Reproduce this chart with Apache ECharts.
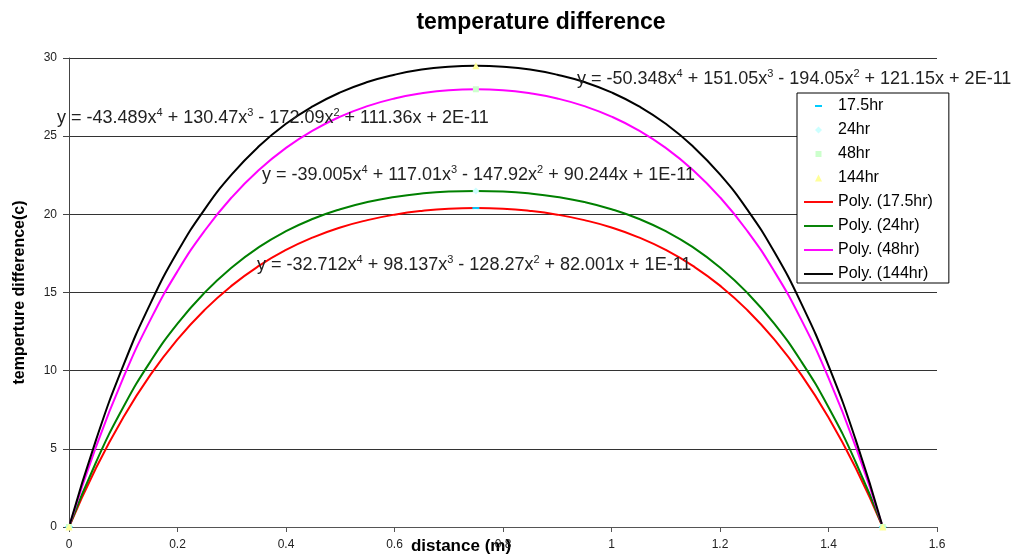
<!DOCTYPE html>
<html>
<head>
<meta charset="utf-8">
<script src="https://cdn.jsdelivr.net/npm/echarts@6/dist/echarts.min.js"></script>
<style>
  html, body { margin: 0; padding: 0; background: #fff; }
  #main { width: 1013px; height: 555px; }
</style>
</head>
<body>
<div id="main"></div>
<script>
// distance along the piece (m), the trendlines are read every 0.05
var distance = [0, 0.05, 0.1, 0.15, 0.2, 0.25, 0.3, 0.35, 0.4, 0.45, 0.5, 0.55, 0.6, 0.65, 0.7, 0.75,
  0.8, 0.85, 0.9, 0.95, 1, 1.05, 1.1, 1.15, 1.2, 1.25, 1.3, 1.35, 1.4, 1.45, 1.5];

// Poly. trendlines
var poly175 = [0, 3.79, 7.01, 9.73, 12.00, 13.89, 15.44, 16.70, 17.72, 18.53, 19.16, 19.63, 19.98, 20.22, 20.36, 20.40,
  20.36, 20.22, 19.98, 19.63, 19.16, 18.53, 17.72, 16.70, 15.44, 13.89, 12.00, 9.73, 7.01, 3.79, 0];
var poly24 = [0, 4.16, 7.66, 10.58, 13.01, 14.99, 16.60, 17.90, 18.92, 19.72, 20.33, 20.79, 21.11, 21.33, 21.46, 21.50,
  21.46, 21.33, 21.11, 20.79, 20.33, 19.72, 18.92, 17.90, 16.60, 14.99, 13.01, 10.58, 7.66, 4.16, 0];
var poly48 = [0, 5.15, 9.54, 13.25, 16.36, 18.95, 21.09, 22.84, 24.25, 25.37, 26.25, 26.92, 27.41, 27.74, 27.94, 28.00,
  27.94, 27.74, 27.41, 26.92, 26.25, 25.37, 24.25, 22.84, 21.09, 18.95, 16.36, 13.25, 9.54, 5.15, 0];
var poly144 = [0, 5.59, 10.32, 14.29, 17.60, 20.32, 22.55, 24.35, 25.79, 26.92, 27.80, 28.46, 28.93, 29.26, 29.44, 29.50,
  29.44, 29.26, 28.93, 28.46, 27.80, 26.92, 25.79, 24.35, 22.55, 20.32, 17.60, 14.29, 10.32, 5.59, 0];

// measured points
var pointX = [0, 0.75, 1.5];
var pts175 = [0, 20.4, 0];
var pts24 = [0, 21.5, 0];
var pts48 = [0, 28.0, 0];
var pts144 = [0, 29.5, 0];

var eq175 = 'y = -32.712x{s|4} + 98.137x{s|3} - 128.27x{s|2} + 82.001x + 1E-11';
var eq24 = 'y = -39.005x{s|4} + 117.01x{s|3} - 147.92x{s|2} + 90.244x + 1E-11';
var eq48 = 'y = -43.489x{s|4} + 130.47x{s|3} - 172.09x{s|2} + 111.36x + 2E-11';
var eq144 = 'y = -50.348x{s|4} + 151.05x{s|3} - 194.05x{s|2} + 121.15x + 2E-11';

var FONT = '"Liberation Sans", Arial, sans-serif';

// legend icons, drawn in a 29x8 box (the leading moves keep the small marks centred)
var ICON_LINE = 'path://M0 0H30V2H0Z';
var ICON_DASH = 'path://M0 0M29 8M11 3H18V5H11Z';
var ICON_DIAMOND = 'path://M0 0M29 8M14.5 0.5L18 4L14.5 7.5L11 4Z';
var ICON_SQUARE = 'path://M0 0M29 8M11.5 1H17.5V7H11.5Z';
var ICON_TRIANGLE = 'path://M0 0M29 8M14.5 0.5L18 7.5H11Z';

function pairs(xs, ys) {
  return xs.map(function (x, i) { return [x, ys[i]]; });
}

function pointSeries(name, ys, symbol, size, color) {
  return {
    name: name,
    type: 'line',
    data: pairs(pointX, ys),
    symbol: symbol,
    symbolSize: size,
    showAllSymbol: true,
    itemStyle: { color: color },
    lineStyle: { width: 0, opacity: 0 },
    z: 5
  };
}

function polySeries(name, ys, color) {
  return {
    name: name,
    type: 'line',
    data: pairs(distance, ys),
    smooth: true,
    showSymbol: false,
    symbol: 'none',
    itemStyle: { color: color },
    lineStyle: { color: color, width: 2 },
    z: 3
  };
}

function eqLabel(text, left, top) {
  return {
    type: 'text',
    left: left,
    top: top,
    z: 10,
    style: {
      text: text,
      fontFamily: FONT,
      fontSize: 18,
      lineHeight: 22,
      fill: '#222',
      rich: {
        s: { fontFamily: FONT, fontSize: 11, lineHeight: 11, verticalAlign: 'top', fill: '#222' }
      }
    }
  };
}

var chart = echarts.init(document.getElementById('main'));

chart.setOption({
  backgroundColor: '#fff',
  animation: false,
  title: {
    text: 'temperature difference',
    left: 536,
    top: 6,
    textAlign: 'center',
    textStyle: { fontFamily: FONT, fontSize: 23, fontWeight: 'bold', color: '#000' }
  },
  grid: { left: 69, right: 76, top: 58, bottom: 28, outerBoundsMode: 'none' },
  legend: {
    orient: 'vertical',
    left: 797,
    top: 93,
    padding: [5, 16, 1, 7],
    itemWidth: 29,
    itemHeight: 8,
    itemGap: 8,
    backgroundColor: '#fff',
    borderColor: '#000',
    borderWidth: 1,
    borderRadius: 0,
    textStyle: { fontFamily: FONT, fontSize: 16, color: '#000' },
    data: [
      { name: '17.5hr', icon: ICON_DASH },
      { name: '24hr', icon: ICON_DIAMOND },
      { name: '48hr', icon: ICON_SQUARE },
      { name: '144hr', icon: ICON_TRIANGLE },
      { name: 'Poly. (17.5hr)', icon: ICON_LINE },
      { name: 'Poly. (24hr)', icon: ICON_LINE },
      { name: 'Poly. (48hr)', icon: ICON_LINE },
      { name: 'Poly. (144hr)', icon: ICON_LINE }
    ]
  },
  xAxis: {
    type: 'value',
    min: 0,
    max: 1.6,
    interval: 0.2,
    name: 'distance (m)',
    nameLocation: 'middle',
    nameGap: 11,
    nameMoveOverlap: false,
    nameTextStyle: { fontFamily: FONT, fontSize: 17, fontWeight: 'bold', color: '#000', padding: [0, 84, 0, 0] },
    axisLine: { lineStyle: { color: '#555', width: 1 } },
    axisTick: { show: true, length: 5, lineStyle: { color: '#555' } },
    axisLabel: { fontFamily: FONT, fontSize: 12, color: '#222', margin: 12 },
    splitLine: { show: false }
  },
  yAxis: {
    type: 'value',
    min: 0,
    max: 30,
    interval: 5,
    name: 'temperture difference(c)',
    nameLocation: 'middle',
    nameGap: 41,
    nameMoveOverlap: false,
    nameTextStyle: { fontFamily: FONT, fontSize: 16, fontWeight: 'bold', color: '#000' },
    axisLine: { show: true, lineStyle: { color: '#444', width: 1 } },
    axisTick: { show: true, length: 6, lineStyle: { color: '#444' } },
    axisLabel: { fontFamily: FONT, fontSize: 12, color: '#222', margin: 12 },
    splitLine: { show: true, lineStyle: { color: '#333', width: 1 } }
  },
  graphic: [
    eqLabel(eq144, 577, 68),
    eqLabel(eq48, 57, 107),
    eqLabel(eq24, 262, 164),
    eqLabel(eq175, 257, 254)
  ],
  series: [
    pointSeries('17.5hr', pts175, 'path://M0 0H7V2H0Z', [7, 2], '#00ccff'),
    pointSeries('24hr', pts24, 'diamond', 7, '#ccffff'),
    pointSeries('48hr', pts48, 'rect', 6, '#ccffcc'),
    pointSeries('144hr', pts144, 'triangle', 7, '#ffff99'),
    polySeries('Poly. (17.5hr)', poly175, '#ff0000'),
    polySeries('Poly. (24hr)', poly24, '#008000'),
    polySeries('Poly. (48hr)', poly48, '#ff00ff'),
    polySeries('Poly. (144hr)', poly144, '#000000')
  ]
});
</script>
</body>
</html>
